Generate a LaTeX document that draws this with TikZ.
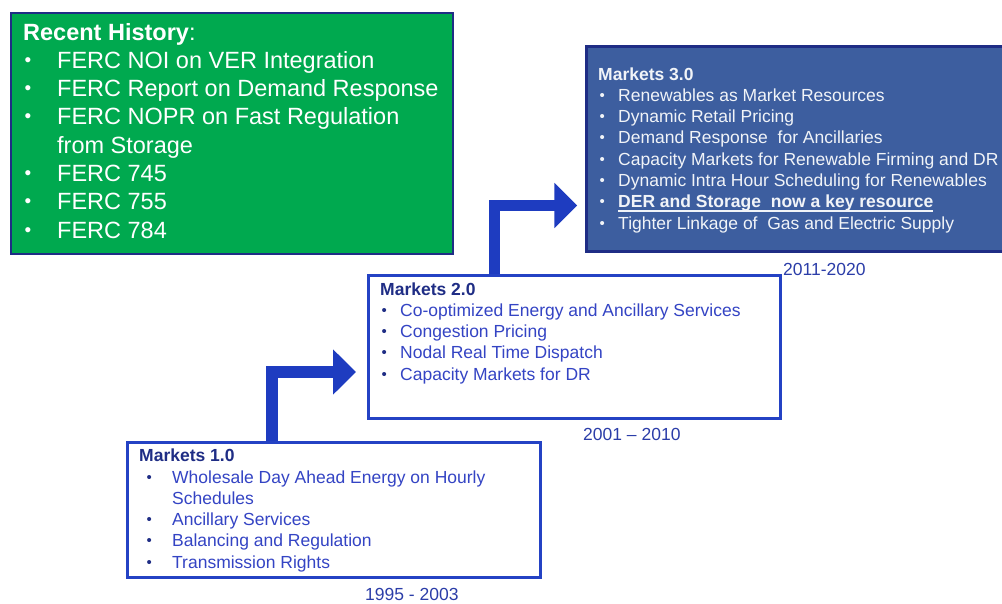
\documentclass[tikz,border=0pt]{standalone}
\usepackage{fontspec}
\setmainfont{Liberation Sans}
\usepackage{xcolor}
\usepackage{tikz}
\usetikzlibrary{arrows.meta, calc}

\definecolor{histgreen}{HTML}{00A94F}
\definecolor{navy}{HTML}{1F2D85}
\definecolor{edgeblue}{HTML}{2442C4}
\definecolor{arrowblue}{HTML}{1E3CC0}
\definecolor{steel}{HTML}{3D5E9F}
\definecolor{itemblue}{HTML}{3444C4}
\definecolor{dateblue}{HTML}{2B3DA8}

% small list dots and a thick underline
\newcommand{\histdot}{\raisebox{2pt}{\fontsize{19}{19}\selectfont\textbullet}}
\newcommand{\itemdot}{\raisebox{1pt}{\fontsize{15}{15}\selectfont\textbullet}}
\newsavebox{\keybox}
\newcommand{\keyline}[1]{\sbox{\keybox}{#1}\rlap{\usebox{\keybox}}\rule[-4pt]{\wd\keybox}{1.6pt}}

\tikzset{
    histbox/.style={draw=navy, line width=2.2pt, fill=histgreen, inner sep=0},
    mktbox/.style={draw=edgeblue, line width=2.5pt, fill=white, inner sep=0},
    futurebox/.style={draw=navy, line width=2.5pt, fill=steel, inner sep=0},
    hist/.style={anchor=base west, inner sep=0, text=white, font=\fontsize{23.5}{28.3}\selectfont},
    item/.style={anchor=base west, inner sep=0, font=\fontsize{17.5}{21.3}\selectfont},
    date/.style={item, text=dateblue},
    flow/.style={line width=11.7pt, draw=arrowblue, -{Triangle[width=44pt,length=23pt]}}
}

\begin{document}
\begin{tikzpicture}[x=1pt, y=-1pt]
        \useasboundingbox (0,0) rectangle (1002,603);

        % Boxes
        \node[histbox, anchor=north west, minimum width=442pt, minimum height=241pt] (hist) at (10,12) {};
        \node[futurebox, anchor=north west, minimum width=430pt, minimum height=205pt] (m3) at (585,45) {};
        \node[mktbox, anchor=north west, minimum width=412pt, minimum height=143pt] (m2) at (367,274) {};
        \node[mktbox, anchor=north west, minimum width=413pt, minimum height=135pt] (m1) at (126,441) {};

        % Steps up
        \coordinate (tip1) at ($(m2.north west)+(-11,98)$);
        \coordinate (tip2) at ($(m3.north west)+(-7.7,160.5)$);
        \draw[flow] (m1.north west) ++(145.7,0) |- (tip1);
        \draw[flow] (m2.north west) ++(127.5,0) |- (tip2);

        % Recent history
        \node[hist] (h0) at (23,40) {\textbf{Recent History}:};
        \foreach \b/\t [count=\i] in {\histdot/FERC NOI on VER Integration, \histdot/FERC Report on Demand Response, \histdot/FERC NOPR on Fast Regulation, /from Storage, \histdot/FERC 745, \histdot/FERC 755, \histdot/FERC 784} {
            \node[hist] (h\i) at (23,40+28.3*\i) {\makebox[34pt][l]{\hspace{1.5pt}\b}\t};
        }

        % Markets 3.0
        \node[item, text=white!93!steel] (c0) at (598,80) {\textbf{Markets 3.0}};
        \foreach \t [count=\i] in {Renewables as Market Resources, Dynamic Retail Pricing, Demand Response\ \ for Ancillaries, Capacity Markets for Renewable Firming and DR, Dynamic Intra Hour Scheduling for Renewables, {\textbf{\keyline{DER and Storage\ \ now a key resource}}}, Tighter Linkage of\ \ Gas and Electric Supply} {
            \node[item, text=white!93!steel] (c\i) at (598,80+21.3*\i) {\makebox[20pt][l]{\hspace{1.5pt}\itemdot}\t};
        }

        % Markets 2.0
        \node[item, text=navy] (b0) at (380,295) {\textbf{Markets 2.0}};
        \foreach \t [count=\i] in {Co-optimized Energy and Ancillary Services, Congestion Pricing, Nodal Real Time Dispatch, Capacity Markets for DR} {
            \node[item, text=itemblue] (b\i) at (380,295+21.3*\i) {\makebox[20pt][l]{\hspace{1.5pt}\color{navy}\itemdot}\t};
        }

        % Markets 1.0
        \node[item, text=navy] (a0) at (139,461.7) {\textbf{Markets 1.0}};
        \foreach \b/\t [count=\i] in {\itemdot/Wholesale Day Ahead Energy on Hourly, /Schedules, \itemdot/Ancillary Services, \itemdot/Balancing and Regulation, \itemdot/Transmission Rights} {
            \node[item, text=itemblue] (a\i) at (139,461.7+21.3*\i) {\makebox[33pt][l]{\hspace{7.5pt}\color{navy}\b}\t};
        }

        % Periods
        \node[date] (d3) at (783,275) {2011-2020};
        \node[date] (d2) at (583,440) {2001 -- 2010};
        \node[date] (d1) at (365,600) {1995 - 2003};

    \end{tikzpicture}
\end{document}
